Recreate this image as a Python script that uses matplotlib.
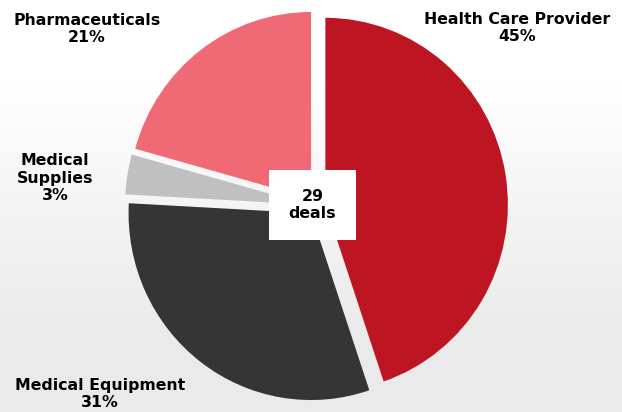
import numpy as np
import matplotlib
matplotlib.use("Agg")
import matplotlib.pyplot as plt
from matplotlib.patches import Rectangle

# Data
categories = ["Health Care Provider", "Medical Equipment", "Medical Supplies", "Pharmaceuticals"]
deals = [13, 9, 1, 6]
pct_labels = ["45%", "31%", "3%", "21%"]
colors = ["#BE1522", "#353535", "#C0C0C0", "#F06A75"]
total_deals = 29

W, H = 622, 412
fig = plt.figure(figsize=(W / 100, H / 100), dpi=100)
ax = fig.add_axes([0, 0, 1, 1])

# background gradient (in axes fraction)
grad = np.linspace(0, 1, 256)
grad = np.clip((grad - 0.2) / 0.6, 0, 1)
col_top = np.array([1.0, 1.0, 1.0])
col_bot = np.array([0.92, 0.92, 0.92])
img = col_top[None, :] * (1 - grad[:, None]) + col_bot[None, :] * grad[:, None]
img = np.repeat(img[:, None, :], 2, axis=1)
ax.imshow(img, extent=(0, 1, 0, 1), aspect="auto", origin="upper", zorder=0,
          transform=ax.transAxes)

cx, cy = 316.5, 0.0
R = 182.5
ex = 9
s = 1.023  # slight vertical stretch seen in reference
ax.pie(deals, colors=colors, startangle=90, counterclock=False,
       radius=R, center=(cx, cy), explode=[ex] * len(deals),
       wedgeprops=dict(linewidth=0), frame=True)

ax.set_xlim(0, W)
ax.set_ylim(-206 / s, 206 / s)
ax.set_aspect("auto")
ax.axis("off")


def P(x, y):
    return x / W, 1 - y / H


fs = 11.3
tkw = dict(ha="center", va="center", fontsize=fs, fontweight="bold",
           color="black", family="DejaVu Sans", linespacing=1.2,
           transform=ax.transAxes)
ax.text(*P(517, 28), "Health Care Provider\n45%", **tkw)
ax.text(*P(87, 29), "Pharmaceuticals\n21%", **tkw)
ax.text(*P(55, 178), "Medical\nSupplies\n3%", **tkw)
ax.text(*P(100, 394), "Medical Equipment\n31%", **tkw)

bx0, by0 = P(269, 240)
ax.add_patch(Rectangle((bx0, by0), 87 / W, 70 / H, facecolor="white",
                       edgecolor="none", zorder=5, transform=ax.transAxes))
ax.text(*P(312.5, 205), f"{total_deals}\ndeals", zorder=6, **tkw)

fig.savefig("out.png", dpi=100)
